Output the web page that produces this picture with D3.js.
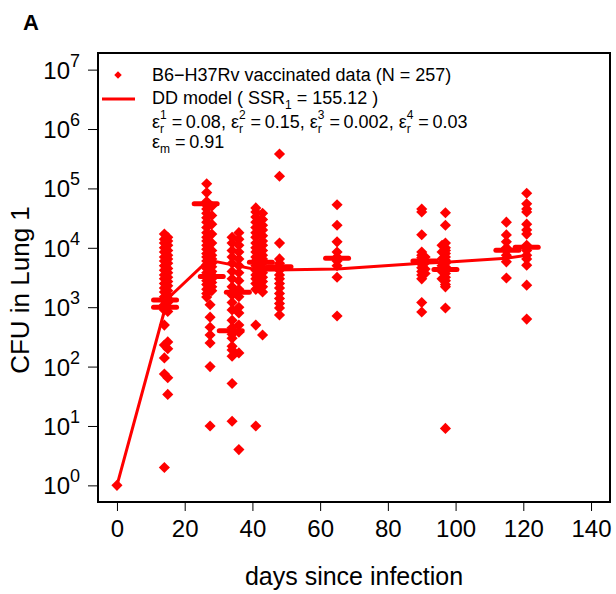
<!DOCTYPE html>
<html><head><meta charset="utf-8">
<script src="https://cdn.jsdelivr.net/npm/d3@7/dist/d3.min.js"></script>
<style>
html,body{margin:0;padding:0;background:#fff;}
svg{display:block;font-family:"Liberation Sans",Arial,Helvetica,sans-serif;}
</style></head>
<body>
<svg id="chart" width="616" height="594"></svg>
<script>
// ---------- DATA ----------
const xTicks = [0, 20, 40, 60, 80, 100, 120, 140];
const yTickExps = [0, 1, 2, 3, 4, 5, 6, 7];

// observed data: day and CFU (parallel arrays)
const obsDays = [
  0,
  14,14,14,14,14,14,14,14,14,14,14,14,14,14,14,14,14,14,14,14,14,14,14,14,
  15,15,15,15,15,15,15,15,15,15,15,15,15,15,15,15,15,15,15,15,15,15,
  26.5,26.5,26.5,26.5,26.5,26.5,26.5,26.5,26.5,26.5,26.5,26.5,26.5,26.5,26.5,26.5,26.5,26.5,26.5,26.5,26.5,26.5,26.5,26.5,26.5,26.5,27.5,27.5,27.5,27.5,27.5,27.5,27.5,
  28,28,28,28,28,28,28,28,28,28,28,28,28,28,28,28,
  34,34,34,34,34,34,34,34,34,34,34,34,34,34,34,34,34,34,34,34,34,
  36,36,36,36,36,36,36,36,36,36,36,36,36,36,36,36,
  41,41,41,41,41,41,41,41,41,41,41,41,41,41,41,41,41,41,41,41,
  43,43,43,43,43,43,43,43,43,43,43,43,43,43,43,43,43,43,
  48,48,48,48,48,48,48,48,48,48,48,48,48,48,48,48,
  65,65,65,65,65,65,65,65,65,
  90,90,90,90,90,90,90,90,90,90,90,90,90,90,
  91,91,91,91,
  97,97,97,97,97,97,97,97,97,97,97,97,97,97,97,97,97,97,
  96,96,96,96,96,96,
  115,115,115,115,115,115,115,115,
  121,121,121,121,121,121,121,121,121,121,121,121,121,121
];
const obsCFU = [
  1,
  17000,14000,12000,10000,8500,7000,6000,5000,4200,3500,3000,2500,2100,1800,1500,1300,1100,950,900,500,230,140,75,2,
  15000,13000,11000,9000,7500,6500,5500,4500,3800,3200,2700,2300,1900,1600,1400,1200,1000,850,260,200,65,34,
  120000,85000,60000,52000,45000,38000,32000,27000,22000,18000,15000,13000,11000,9500,8000,7000,6000,5200,4500,3800,3300,2800,2400,2000,1700,1480,1100,680,460,340,250,100,10,
  50000,35000,25000,17000,12000,9000,7500,6500,5500,4800,4000,3500,3000,2600,2200,1900,
  15000,12000,9000,7000,5500,4000,3000,2200,1600,1200,900,600,450,400,350,300,220,190,150,52,12,
  18000,14000,11000,8500,6500,5000,3800,2800,2000,1500,1000,800,500,380,170,4,
  47000,40000,33000,27000,22000,18000,15000,12000,10000,8500,7000,6000,5000,4200,3500,3000,2500,2000,500,10,
  38000,30000,24000,20000,16000,13000,11000,9000,7500,6500,5500,4600,3800,3200,2700,2200,1800,340,
  380000,160000,12000,6500,5500,4800,4200,3500,3000,2500,2100,1700,1400,1150,970,740,
  53000,24000,12600,8500,7000,6000,5000,3200,710,
  45000,40000,16600,8500,7500,6800,6000,5300,4600,4000,3500,3000,1200,830,
  7000,5600,4400,3700,
  39000,24000,12000,10000,9000,8000,7000,6200,5500,4800,4200,3700,3200,2800,2400,2200,970,9.1,
  11000,8500,6500,5000,4000,3000,
  27000,16500,12600,10000,9000,7500,5800,3100,
  83000,55000,45000,40000,25000,20000,17000,11000,9000,7500,6500,5100,2350,630
];

// group mean markers (horizontal dashes)
const meanDays = [14.2, 14.2, 26.2, 28, 35.7, 33.6, 42.5, 48, 65, 90.8, 97, 115.3, 121];
const meanCFU  = [1320, 1000, 55000, 3300, 1780, 400, 5700, 4800, 6700, 6000, 4300, 9100, 10200];

// DD model curve
const modelDays = [0, 15, 27, 42, 65, 90, 97, 115, 122];
const modelCFU  = [1, 1400, 6200, 4200, 4400, 5500, 5700, 6700, 7600];

// legend parameter values
const epsR = ["0.08", "0.15", "0.002", "0.03"];
const epsM = "0.91";

// ---------- LAYOUT ----------
const svg = d3.select("#chart");
const L = 98, R = 610, T = 53, B = 502;
const RED = "#ff0000";
const x = d3.scaleLinear().domain([-5.6, 145.6]).range([L, R]);
const y = d3.scaleLog().domain([Math.pow(10, -0.28), Math.pow(10, 7.28)]).range([B, T]);

// panel label
svg.append("text").attr("x", 23).attr("y", 30).attr("font-size", 22).attr("font-weight", "bold").text("A");

// x axis
const gx = svg.append("g").attr("transform", `translate(0,${B})`)
  .call(d3.axisBottom(x).tickValues(xTicks).tickSize(9).tickPadding(9).tickFormat(d3.format("d")));
gx.select(".domain").remove();
gx.selectAll("line").attr("stroke", "#000").attr("stroke-width", 1);
gx.selectAll("text").attr("font-size", 24).attr("fill", "#000")
  .attr("font-family", "Liberation Sans, Arial, sans-serif").attr("dy", "0.71em");

// y axis
const yTickVals = yTickExps.map(e => Math.pow(10, e));
const gy = svg.append("g").attr("transform", `translate(${L},0)`)
  .call(d3.axisLeft(y).tickValues(yTickVals).tickSize(10).tickFormat(""));
gy.select(".domain").remove();
gy.selectAll("line").attr("stroke", "#000").attr("stroke-width", 1);
yTickExps.forEach(e => {
  const t = svg.append("text").attr("x", 80).attr("y", y(Math.pow(10, e)) + 9)
    .attr("text-anchor", "end").attr("font-size", 24);
  t.append("tspan").text("10");
  t.append("tspan").attr("font-size", 18).attr("dy", -12).text(String(e));
});

// axis titles
svg.append("text").attr("x", (L + R) / 2).attr("y", 585).attr("text-anchor", "middle")
  .attr("font-size", 25).text("days since infection");
svg.append("text").attr("transform", `translate(29,290) rotate(-90)`)
  .attr("text-anchor", "middle").attr("font-size", 26).text("CFU in Lung 1");

// box
svg.append("rect").attr("x", L).attr("y", T).attr("width", R - L).attr("height", B - T)
  .attr("fill", "none").attr("stroke", "#000").attr("stroke-width", 2);

// model line
const line = d3.line().x((d, i) => x(modelDays[i])).y((d, i) => y(modelCFU[i]));
svg.append("path").datum(modelCFU).attr("d", line).attr("fill", "none")
  .attr("stroke", RED).attr("stroke-width", 3).attr("stroke-linejoin", "round");

// data points
const diamond = d3.symbol().type(d3.symbolSquare).size(62);
svg.append("g").selectAll("path").data(obsCFU).join("path")
  .attr("d", diamond)
  .attr("transform", (d, i) => `translate(${x(obsDays[i])},${y(d)}) rotate(45)`)
  .attr("fill", RED);

// mean dashes
svg.append("g").selectAll("line").data(meanCFU).join("line")
  .attr("x1", (d, i) => x(meanDays[i]) - 11.5).attr("x2", (d, i) => x(meanDays[i]) + 11.5)
  .attr("y1", d => y(d)).attr("y2", d => y(d))
  .attr("stroke", RED).attr("stroke-width", 5).attr("stroke-linecap", "round");

// legend
const lg = svg.append("g").attr("font-size", 18);
lg.append("path").attr("d", d3.symbol().type(d3.symbolSquare).size(28)())
  .attr("transform", "translate(118,75) rotate(45)").attr("fill", RED);
lg.append("text").attr("x", 152).attr("y", 81).text("B6\u2212H37Rv vaccinated data (N = 257)");
lg.append("line").attr("x1", 102).attr("x2", 135).attr("y1", 99).attr("y2", 99)
  .attr("stroke", RED).attr("stroke-width", 3);

// sequential writer of text pieces with super/subscripts as separate texts
function writer(x0, base) {
  let cx = x0;
  return {
    txt(s) {
      const t = lg.append("text").attr("x", cx).attr("y", base).attr("font-size", 18)
        .style("white-space", "pre").attr("xml:space", "preserve").text(s);
      cx += t.node().getComputedTextLength();
    },
    sub(s) {
      const t = lg.append("text").attr("x", cx).attr("y", base + 5).attr("font-size", 12).text(s);
      cx += t.node().getComputedTextLength();
    },
    supsub(sp, sb) {
      const a = lg.append("text").attr("x", cx).attr("y", base - 9).attr("font-size", 12).text(sp);
      const b = lg.append("text").attr("x", cx).attr("y", base + 5).attr("font-size", 12).text(sb);
      cx += Math.max(a.node().getComputedTextLength(), b.node().getComputedTextLength());
    }
  };
}
const w2 = writer(152, 104);
w2.txt("DD model ( SSR"); w2.sub("1"); w2.txt(" = 155.12 )");

const w3 = writer(152, 128);
epsR.forEach((v, i) => {
  w3.txt((i === 0 ? "" : ", ") + "\u03b5");
  w3.supsub(String(i + 1), "r");
  w3.txt(" =\u2009" + v);
});
const w4 = writer(152, 148);
w4.txt("\u03b5"); w4.sub("m"); w4.txt(" =\u2009" + epsM);
</script>
</body></html>
